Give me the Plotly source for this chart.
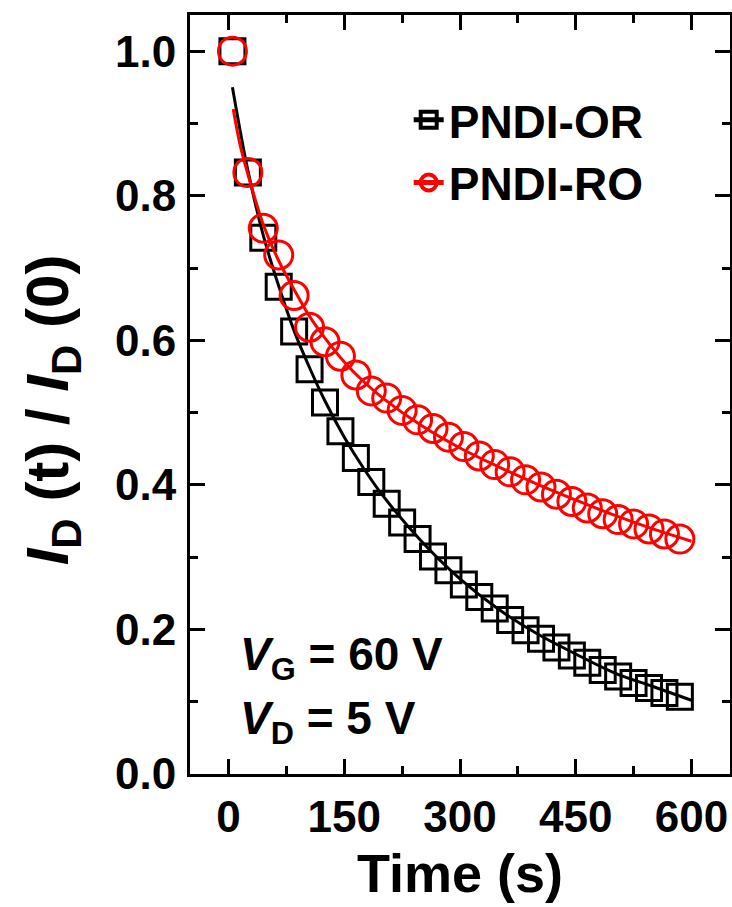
import plotly.graph_objects as go

# ---- data ----
time_s = [5, 25, 45, 65, 85, 105, 125, 145, 165, 185, 205, 225, 245, 265, 285,
          305, 325, 345, 365, 385, 405, 425, 445, 465, 485, 505, 525, 545, 565, 585]

pndi_or = [1.000, 0.832, 0.742, 0.674, 0.612, 0.560, 0.514, 0.474, 0.437, 0.404,
           0.374, 0.348, 0.325, 0.301, 0.282, 0.262, 0.245, 0.229, 0.213, 0.199,
           0.187, 0.175, 0.164, 0.154, 0.144, 0.135, 0.126, 0.119, 0.112, 0.107]

pndi_ro = [1.000, 0.832, 0.755, 0.718, 0.662, 0.618, 0.598, 0.578, 0.552, 0.530,
           0.520, 0.503, 0.490, 0.478, 0.466, 0.453, 0.440, 0.428, 0.418, 0.407,
           0.397, 0.387, 0.377, 0.368, 0.360, 0.352, 0.346, 0.339, 0.332, 0.325]

fit_t_or = [5, 15, 25, 45, 65, 85, 105, 125, 150, 175, 200, 250, 300, 350, 400, 450, 500, 550, 600]
fit_or = [0.950, 0.890, 0.835, 0.745, 0.675, 0.613, 0.562, 0.516, 0.466, 0.423,
          0.385, 0.322, 0.270, 0.228, 0.194, 0.166, 0.140, 0.121, 0.102]

fit_t_ro = [6, 15, 25, 45, 65, 85, 105, 125, 150, 175, 200, 250, 300, 350, 400, 450, 500, 550, 600]
fit_ro = [0.920, 0.870, 0.830, 0.760, 0.710, 0.670, 0.633, 0.603, 0.570, 0.543,
          0.520, 0.482, 0.451, 0.425, 0.401, 0.379, 0.358, 0.339, 0.322]

x_ticks = [0, 150, 300, 450, 600]
y_ticks = [0.0, 0.2, 0.4, 0.6, 0.8, 1.0]

FONT = "Liberation Sans"
BLACK = "#000000"
RED = "#ff0000"

fig = go.Figure()

# data markers
fig.add_trace(go.Scatter(x=time_s, y=pndi_or, mode="markers", showlegend=False,
                         marker=dict(symbol="square-open", size=25, color=BLACK,
                                     line=dict(width=3, color=BLACK))))
fig.add_trace(go.Scatter(x=fit_t_or, y=fit_or, mode="lines", showlegend=False,
                         line=dict(color=BLACK, width=3, shape="spline")))
fig.add_trace(go.Scatter(x=time_s, y=pndi_ro, mode="markers", showlegend=False,
                         marker=dict(symbol="circle-open", size=28, color=RED,
                                     line=dict(width=3, color=RED))))
fig.add_trace(go.Scatter(x=fit_t_ro, y=fit_ro, mode="lines", showlegend=False,
                         line=dict(color=RED, width=3, shape="spline")))

# legend entries
fig.add_trace(go.Scatter(x=[None], y=[None], mode="lines+markers", name="PNDI-OR",
                         line=dict(color=BLACK, width=5),
                         marker=dict(symbol="square-open", size=16, color=BLACK,
                                     line=dict(width=4, color=BLACK))))
fig.add_trace(go.Scatter(x=[None], y=[None], mode="lines+markers", name="PNDI-RO",
                         line=dict(color=RED, width=5),
                         marker=dict(symbol="circle-open", size=16, color=RED,
                                     line=dict(width=4, color=RED))))

axis_common = dict(
    showline=True, linewidth=3, linecolor=BLACK, mirror="ticks",
    ticks="inside", ticklen=15, tickwidth=3, tickcolor=BLACK,
    showgrid=False, zeroline=False, automargin=False,
    tickfont=dict(family=FONT, size=44, color=BLACK, weight="bold"),
)

fig.update_xaxes(
    range=[-50, 650], tickvals=x_ticks, ticktext=[str(v) for v in x_ticks],
    minor=dict(dtick=75, tick0=0, ticks="inside", ticklen=8, tickwidth=3, tickcolor=BLACK),
    ticklabelstandoff=2,
    **axis_common,
)
fig.update_yaxes(
    range=[0, 1.05], tickvals=y_ticks, ticktext=[f"{v:.1f}" for v in y_ticks],
    minor=dict(dtick=0.1, tick0=0, ticks="inside", ticklen=8, tickwidth=3, tickcolor=BLACK),
    ticklabelstandoff=2,
    **axis_common,
)

# axis titles as text
fig.add_annotation(xref="paper", yref="paper", x=0.5, y=(774 - 873) / 759,
                   xanchor="center", yanchor="middle", showarrow=False,
                   text="<b>Time (s)</b>",
                   font=dict(family=FONT, size=54, color=BLACK))
fig.add_annotation(xref="paper", yref="paper", x=-0.255, y=(774 - 410) / 759,
                   xanchor="center", yanchor="middle", textangle=-90, showarrow=False,
                   text="<b><i>I</i><sub>D</sub> (t) / <i>I</i><sub>D</sub> (0)</b>",
                   font=dict(family=FONT, size=60, color=BLACK))

fig.add_annotation(xref="paper", yref="paper", x=0.088, y=0.153, xanchor="left", yanchor="middle",
                   text="<b><i>V</i><sub>G</sub> = 60 V</b>", showarrow=False,
                   font=dict(family=FONT, size=46, color=BLACK))
fig.add_annotation(xref="paper", yref="paper", x=0.088, y=0.069, xanchor="left", yanchor="middle",
                   text="<b><i>V</i><sub>D</sub> = 5 V</b>", showarrow=False,
                   font=dict(family=FONT, size=46, color=BLACK))

fig.update_layout(
    width=732, height=907, autosize=False,
    margin=dict(l=190, r=2, t=15, b=133),
    paper_bgcolor="white", plot_bgcolor="white",
    font=dict(family=FONT, color=BLACK),
    legend=dict(x=0.405, y=0.91, xanchor="left", yanchor="top",
                bgcolor="rgba(0,0,0,0)", borderwidth=0,
                font=dict(family=FONT, size=46, color=BLACK, weight="bold"),
                itemwidth=30, tracegroupgap=0),
)

fig.write_html("out.html", include_plotlyjs=True, config={"displayModeBar": False})
